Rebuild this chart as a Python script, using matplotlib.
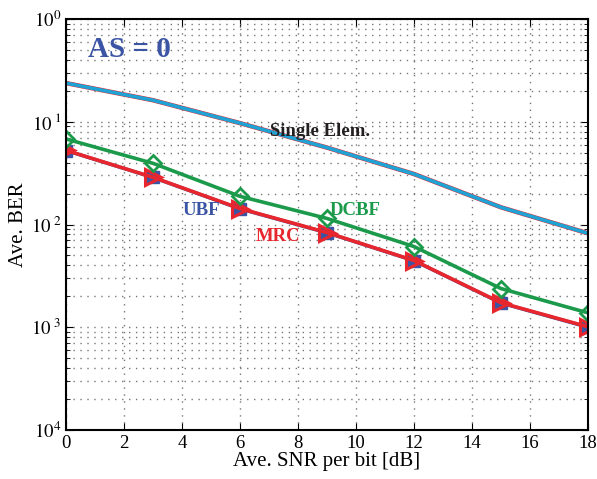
import numpy as np
from matplotlib import pyplot as plt
from matplotlib.ticker import FixedLocator, FixedFormatter, LogLocator, NullFormatter

plt.rcParams['font.family'] = ['Liberation Serif', 'DejaVu Serif']
plt.rcParams['mathtext.fontset'] = 'stix'

snr = [0, 3, 6, 9, 12, 15, 18]
single_elem = [0.238, 0.162, 0.097, 0.056, 0.031, 0.0147, 0.0082]
dcbf = [0.068, 0.0394, 0.0188, 0.01145, 0.0061, 0.00238, 0.00138]
mrc = [0.0527, 0.0288, 0.0143, 0.00835, 0.00446, 0.00173, 0.00101]
ubf = [0.0525, 0.0287, 0.0142, 0.0083, 0.00444, 0.00172, 0.00100]

xticks = [0, 2, 4, 6, 8, 10, 12, 14, 16, 18]
yticks = [1e-4, 1e-3, 1e-2, 1e-1, 1e0]
ytick_labels = ['$10^{4}$', '$10^{\\ 3}$', '$10^{\\ 2}$', '$10^{\\ 1}$', '$10^{0}$']

cyan = '#1fa3d5'
green = '#1a9a4a'
red = '#e8262d'
blue = '#3b55a4'

fig = plt.figure(figsize=(5.97, 4.79), dpi=100)
ax = fig.add_axes([0.1106, 0.1023, 0.8744, 0.858])

ax.plot(snr, single_elem, color=red, linewidth=3.2)
ax.plot(snr, single_elem, color=cyan, linewidth=2.6)
ax.plot(snr, ubf, color=blue, linewidth=2.5, marker='s', markersize=8)
ax.plot(snr, mrc, color=red, linewidth=2.6, marker='>', markersize=11,
        markerfacecolor='none', markeredgewidth=2.2)
ax.plot(snr, dcbf, color=green, linewidth=2.6, marker='D', markersize=8,
        markerfacecolor='none', markeredgewidth=2.0)

ax.set_yscale('log')
ax.set_xlim(0, 18)
ax.set_ylim(1e-4, 1)
ax.xaxis.set_major_locator(FixedLocator(xticks))
ax.yaxis.set_major_locator(FixedLocator(yticks))
ax.yaxis.set_major_formatter(FixedFormatter(ytick_labels))
ax.yaxis.set_minor_locator(LogLocator(base=10, subs=np.arange(2, 10)))
ax.yaxis.set_minor_formatter(NullFormatter())

# dotted grid like the original
ax.grid(True, which='major', linestyle=(0, (1, 4)), color='#777777', linewidth=1.0)
ax.grid(True, which='minor', axis='y', linestyle=(0, (1, 4)), color='#777777', linewidth=1.0)
ax.tick_params(which='both', direction='in', labelsize=13.5, top=True, right=True)
ax.tick_params(which='major', length=5)
ax.tick_params(which='minor', length=3)
for s in ax.spines.values():
    s.set_linewidth(1.5)

ax.set_xlabel('Ave. SNR per bit [dB]', fontsize=15, labelpad=0)
ax.set_ylabel('Ave. BER', fontsize=15, labelpad=2)

ax.text(0.75, 0.43, 'AS = 0', fontsize=21, fontweight='bold', color=blue)
ax.text(7.05, 0.072, 'Single Elem.', fontsize=13.5, fontweight='bold', color='#231f20')
ax.text(4.0, 0.0125, 'UBF', fontsize=13.5, fontweight='bold', color=blue)
ax.text(9.1, 0.0125, 'DCBF', fontsize=13.5, fontweight='bold', color=green)
ax.text(6.55, 0.0069, 'MRC', fontsize=13.5, fontweight='bold', color=red)

plt.savefig('out.png', dpi=100)
